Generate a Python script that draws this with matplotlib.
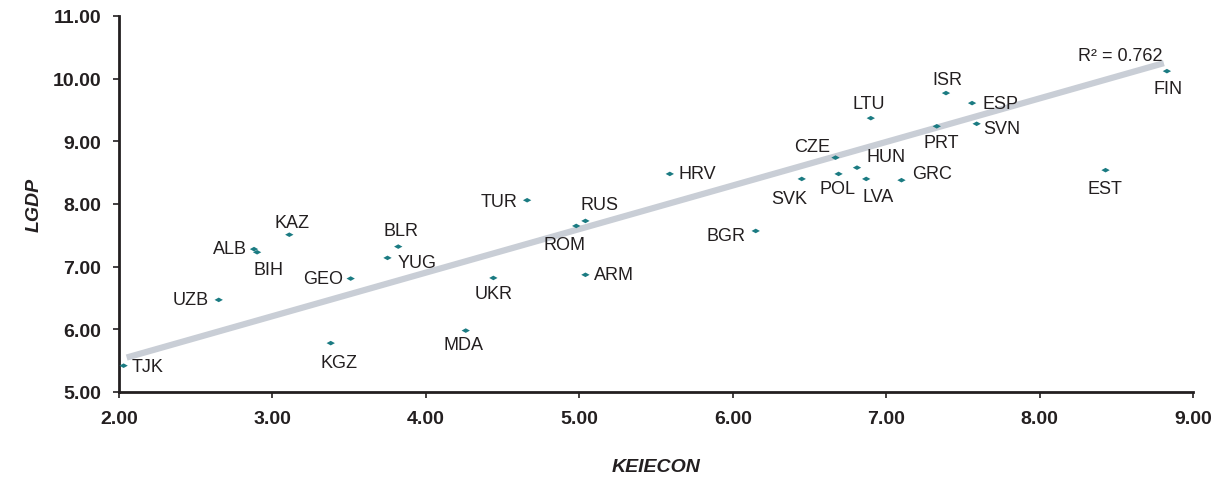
import numpy as np
import matplotlib
matplotlib.use("Agg")
import matplotlib.pyplot as plt
from matplotlib.path import Path

# ── data ------------------------------------------------------------------- #
countries = ["TJK", "UZB", "ALB", "BIH", "KAZ", "BLR", "YUG", "GEO", "KGZ",
             "MDA", "UKR", "TUR", "ROM", "RUS", "ARM", "HRV", "BGR", "SVK",
             "CZE", "POL", "HUN", "LVA", "LTU", "GRC", "PRT", "ISR", "ESP",
             "SVN", "EST", "FIN"]
keiecon = [2.03, 2.65, 2.88, 2.90, 3.11, 3.82, 3.75, 3.51, 3.38,
           4.26, 4.44, 4.66, 4.98, 5.04, 5.04, 5.59, 6.15, 6.45,
           6.67, 6.69, 6.81, 6.87, 6.90, 7.10, 7.33, 7.39, 7.56,
           7.59, 8.43, 8.83]
lgdp = [5.42, 6.47, 7.28, 7.23, 7.51, 7.32, 7.14, 6.81, 5.78,
        5.98, 6.82, 8.06, 7.65, 7.73, 6.87, 8.48, 7.57, 8.40,
        8.74, 8.48, 8.58, 8.40, 9.37, 8.38, 9.24, 9.77, 9.61,
        9.28, 8.54, 10.12]
# trend line as printed in the source chart
trend_slope = 0.695
trend_icpt = 4.125
r2_text = "R\u00b2 = 0.762"

x_ticks = [2, 3, 4, 5, 6, 7, 8, 9]
y_ticks = [5, 6, 7, 8, 9, 10, 11]

# label placement: (dx, dy) in pixels, horizontal alignment
offsets = {
    "TJK": (8, -1, "left"), "UZB": (-10, 0, "right"), "ALB": (-7, 1, "right"),
    "BIH": (11, -17, "center"), "KAZ": (3, 12, "center"), "BLR": (3, 16, "center"),
    "YUG": (10, -5, "left"), "GEO": (-8, 0, "right"), "KGZ": (8, -19, "center"),
    "MDA": (-2, -14, "center"), "UKR": (0, -16, "center"), "TUR": (-10, -1, "right"),
    "ROM": (-12, -19, "center"), "RUS": (14, 16, "center"), "ARM": (9, 0, "left"),
    "HRV": (9, 0, "left"), "BGR": (-10, -5, "right"), "SVK": (-13, -20, "center"),
    "CZE": (-23, 11, "center"), "POL": (-1, -15, "center"), "HUN": (29, 11, "center"),
    "LVA": (12, -18, "center"), "LTU": (-2, 15, "center"), "GRC": (11, 7, "left"),
    "PRT": (4, -16, "center"), "ISR": (1, 14, "center"), "ESP": (10, 0, "left"),
    "SVN": (7, -5, "left"), "EST": (-1, -18, "center"), "FIN": (1, -17, "center"),
}

label_font = ["Liberation Sans Narrow", "Liberation Sans", "DejaVu Sans"]
bold_font = ["Liberation Sans", "DejaVu Sans"]
ink = "#231f20"

# flat diamond marker
flat_diamond = Path([(-1, 0), (0, 0.55), (1, 0), (0, -0.55), (-1, 0)],
                    [Path.MOVETO, Path.LINETO, Path.LINETO, Path.LINETO, Path.CLOSEPOLY])

fig = plt.figure(figsize=(12.22, 4.81), dpi=100)
ax = fig.add_axes([119 / 1222, 1 - 393 / 481, (1193 - 119) / 1222, (393 - 17) / 481])

# ── trend line ------------------------------------------------------------- #
xs = np.array([min(keiecon) + 0.02, max(keiecon) - 0.02])
ax.plot(xs, trend_slope * xs + trend_icpt, color="#c9ced6", lw=4.5,
        solid_capstyle="butt", zorder=1)

ax.scatter(keiecon, lgdp, marker=flat_diamond, s=36, color="#1b7b82",
           edgecolors="none", zorder=3)

for c, x, y in zip(countries, keiecon, lgdp):
    dx, dy, ha = offsets[c]
    ax.annotate(c, (x, y), xytext=(dx, dy), textcoords="offset pixels",
                ha=ha, va="center", fontsize=13, family=label_font, color=ink)

ax.annotate(r2_text, (xs[1], trend_slope * xs[1] + trend_icpt), xytext=(-44, 8),
            textcoords="offset pixels", ha="center", va="center",
            fontsize=13, family=label_font, color=ink)

# ── axes ------------------------------------------------------------------- #
ax.set_xlim(2, 9)
ax.set_ylim(5, 11)
ax.set_xticks(x_ticks)
ax.set_yticks(y_ticks)
ax.set_xticklabels([f"{v:.2f}" for v in x_ticks], family=bold_font, fontweight="bold",
                   fontsize=14, color=ink)
ax.set_yticklabels([f"{v:.2f}" for v in y_ticks], family=bold_font, fontweight="bold",
                   fontsize=14, color=ink)
ax.tick_params(axis="x", length=4, width=1.2, pad=9, color=ink)
ax.tick_params(axis="y", length=4, width=1.2, pad=9, color=ink)
for s in ["top", "right"]:
    ax.spines[s].set_visible(False)
for s in ["left", "bottom"]:
    ax.spines[s].set_linewidth(2)
    ax.spines[s].set_color(ink)

ax.set_xlabel("KEIECON", family=bold_font, fontweight="bold", style="italic",
              fontsize=14, color=ink, labelpad=22)
ax.set_ylabel("LGDP", family=bold_font, fontweight="bold", style="italic",
              fontsize=14, color=ink, labelpad=7)

fig.savefig("out.png", dpi=100)
